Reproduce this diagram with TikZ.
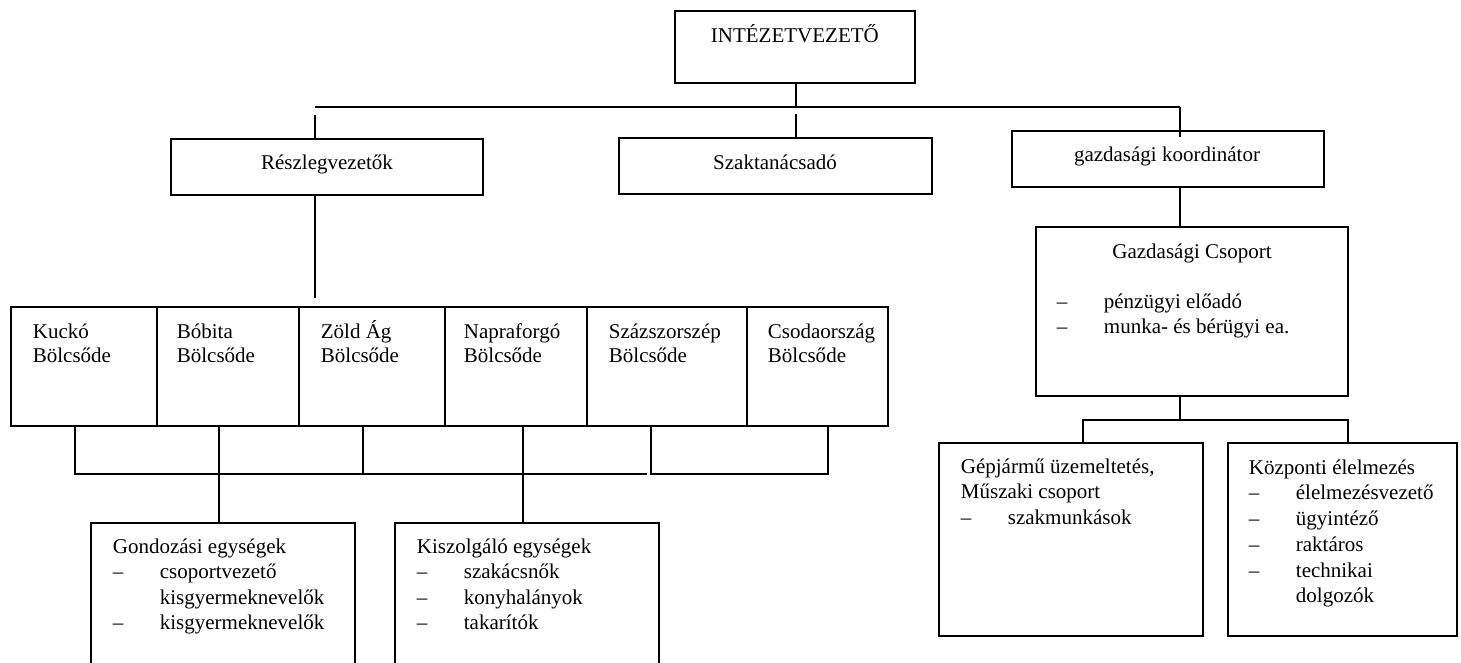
\documentclass[tikz,border=0pt]{standalone}
\usepackage{fontspec}
\setmainfont{Liberation Serif}
\usetikzlibrary{fit}
\newcommand\itemline[4]{%
  \node[txt] (#1d) at (#2,#3) {–};
  \node[txt] (#1) at (#2+47,#3) {#4};}
\begin{document}
\begin{tikzpicture}[x=0.5pt,y=-0.5pt,line width=0.9pt,
  box/.style={draw,rectangle,inner sep=0pt},
  txt/.style={inner sep=0pt,font=\fontsize{10.5}{12.6}\selectfont,anchor=base west},
  ctxt/.style={txt,anchor=base}]
\useasboundingbox (0,0) rectangle (1461,663);
% boxes
\node[box,fit={(675,11) (915,83)}] (top) {};
\node[box,fit={(171,139) (483,195)}] (resz) {};
\node[box,fit={(619,138) (932,194)}] (szak) {};
\node[box,fit={(1012,131) (1324,187)}] (gk) {};
\node[box,fit={(1036,227) (1348,396)}] (gc) {};
\node[box,fit={(11,307) (157,426)}] (b1) {};
\node[box,fit={(157,307) (299,426)}] (b2) {};
\node[box,fit={(299,307) (445,426)}] (b3) {};
\node[box,fit={(445,307) (587,426)}] (b4) {};
\node[box,fit={(587,307) (747,426)}] (b5) {};
\node[box,fit={(747,307) (888,426)}] (b6) {};
\node[box,fit={(91,523) (355,700)}] (gond) {};
\node[box,fit={(395,523) (659,700)}] (kisz) {};
\node[box,fit={(939,443) (1203,636)}] (gep) {};
\node[box,fit={(1228,443) (1457,636)}] (kozp) {};
% texts
\node[txt] (topT) at (710,43) {INTÉZETVEZETŐ};
\node[ctxt] (reszT) at (327,170) {Részlegvezetők};
\node[ctxt] (szakT) at (775,170) {Szaktanácsadó};
\node[ctxt] (gkT) at (1167,162) {gazdasági koordinátor};
\node[ctxt] (gcT) at (1192,258) {Gazdasági Csoport};
\itemline{gc1}{1056}{308}{pénzügyi előadó}
\itemline{gc2}{1056}{333}{munka- és bérügyi ea.}
\node[txt] (b1a) at (32,338) {Kuckó};
\node[txt] (b1b) at (32,362) {Bölcsőde};
\node[txt] (b2a) at (176,338) {Bóbita};
\node[txt] (b2b) at (176,362) {Bölcsőde};
\node[txt] (b3a) at (320,338) {Zöld Ág};
\node[txt] (b3b) at (320,362) {Bölcsőde};
\node[txt] (b4a) at (463,338) {Napraforgó};
\node[txt] (b4b) at (463,362) {Bölcsőde};
\node[txt] (b5a) at (608,338) {Százszorszép};
\node[txt] (b5b) at (608,362) {Bölcsőde};
\node[txt] (b6a) at (767,338) {Csodaország};
\node[txt] (b6b) at (767,362) {Bölcsőde};
\node[txt] (gondT) at (112,553) {Gondozási egységek};
\itemline{g1}{112}{578}{csoportvezető}
\node[txt] (g1b) at (159,604) {kisgyermeknevelők};
\itemline{g2}{112}{629}{kisgyermeknevelők}
\node[txt] (kiszT) at (416,553) {Kiszolgáló egységek};
\itemline{k1}{416}{578}{szakácsnők}
\itemline{k2}{416}{604}{konyhalányok}
\itemline{k3}{416}{629}{takarítók}
\node[txt] (gepT) at (960,473) {Gépjármű üzemeltetés,};
\node[txt] (gepT2) at (960,498) {Műszaki csoport};
\itemline{m1}{960}{524}{szakmunkások}
\node[txt] (kozpT) at (1248,474) {Központi élelmezés};
\itemline{z1}{1248}{499}{élelmezésvezető}
\itemline{z2}{1248}{525}{ügyintéző}
\itemline{z3}{1248}{551}{raktáros}
\itemline{z4}{1248}{577}{technikai}
\node[txt] (z4b) at (1295,602) {dolgozók};
% connectors top
\coordinate (hl) at (315,107);
\coordinate (hr) at (1180,107);
\coordinate (s1) at (315,115);
\coordinate (s2) at (796,114);
\draw (hl) -- (hr);
\draw (top.south -| s2) -- (s2 |- hl);
\draw (s1) -- (s1 |- resz.north);
\draw (s2) -- (s2 |- szak.north);
\draw (hr) -- (hr |- szak.north);
\draw (hr |- gk.south) -- (hr |- gc.north);
\coordinate (r1) at (315,298);
\draw (s1 |- resz.south) -- (r1);
% bolcsode bracket
\coordinate (c1) at (75,474);
\coordinate (c2) at (219,474);
\coordinate (c3) at (363,474);
\coordinate (c4) at (523,474);
\coordinate (c5) at (651,474);
\coordinate (c6) at (828,474);
\coordinate (c45) at (647,474);
\draw (c1 |- b1.south) -- (c1) -- (c45);
\draw (c2 |- b2.south) -- (c2);
\draw (c3 |- b3.south) -- (c3);
\draw (c4 |- b4.south) -- (c4);
\draw (c5 |- b5.south) -- (c5) -- (c6) -- (c6 |- b6.south);
\draw (c2) -- (c2 |- gond.north);
\draw (c4) -- (c4 |- kisz.north);
% gazdasagi bracket
\coordinate (d0) at (1180,420);
\coordinate (d1) at (1083,420);
\coordinate (d2) at (1348,420);
\draw (d0 |- gc.south) -- (d0);
\draw (d1 |- gep.north) -- (d1) -- (d2) -- (d2 |- kozp.north);
\end{tikzpicture}
\end{document}
